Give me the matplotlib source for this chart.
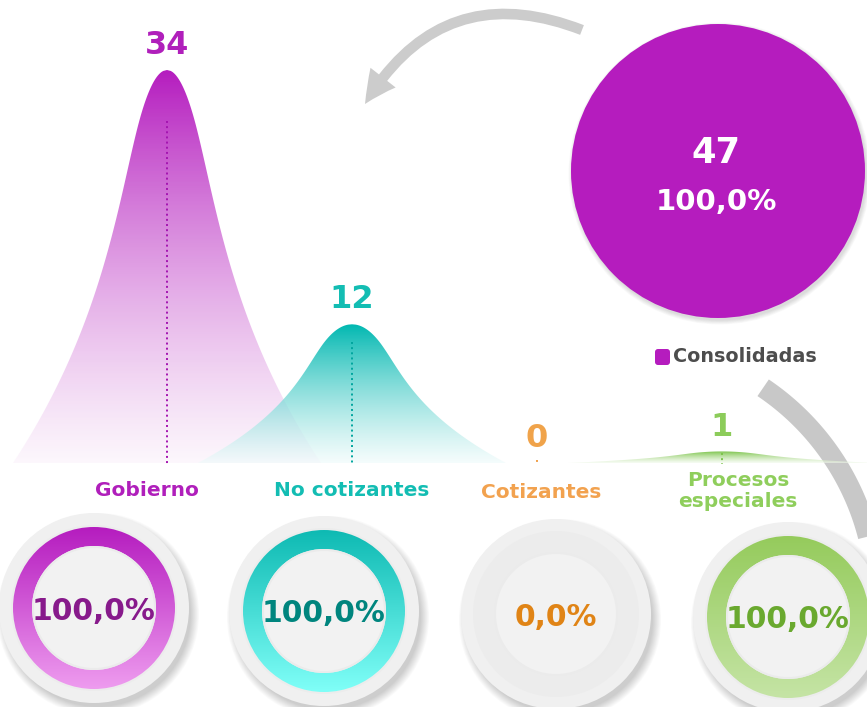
"""Consolidadas por tipo: bell peaks per category + completion donuts."""
import numpy as np
import matplotlib
matplotlib.use("Agg")
import matplotlib.pyplot as plt
from matplotlib.patches import Circle, Wedge, Polygon, FancyArrowPatch, FancyBboxPatch
from matplotlib.colors import to_rgb

# ---- data ----
categories = ["Gobierno", "No cotizantes", "Cotizantes", "Procesos\nespeciales"]
counts = [34, 12, 0, 1]
pct_done = [100.0, 100.0, 0.0, 100.0]
total_label = "Consolidadas"
total_pct = 100.0

# ---- styles ----
peak_dark = ["#b51cbf", "#00b8b1", "#f0a04a", "#7cc44a"]
peak_light = ["#fbf2fb", "#effbfb", "#fdf3e8", "#f3faee"]
line_col = ["#a414b0", "#00a59e", "#f0a04a", "#7cc44a"]
label_col = ["#b01fbb", "#13bdb3", "#f2a24f", "#8fce5c"]
value_col = ["#b01fbb", "#13bdb3", "#f0a34a", "#8ccc5a"]
ring_top = ["#b51cbf", "#0ebab3", "#f0a04a", "#95cb5c"]
ring_bot = ["#ee9cef", "#80fff8", "#f8c890", "#c5e4a5"]
pct_col = ["#871a8b", "#00857e", "#e08416", "#6aa92f"]
PURPLE = "#b51cbe"

W, H = 867, 707
fig = plt.figure(figsize=(W / 100, H / 100), dpi=100)

# pixel-space axes for the decorative layer
ax = fig.add_axes([0, 0, 1, 1])
ax.set_xlim(0, W)
ax.set_ylim(H, 0)
ax.axis("off")


def fmt_pct(p):
    return f"{p:.1f}".replace(".", ",") + "%"


def gradient_img(c1, c2, n=256):
    a, b = np.array(to_rgb(c1)), np.array(to_rgb(c2))
    t = np.linspace(0, 1, n)[:, None]
    return (a * (1 - t) + b * t)[:, None, :]


def half_width(u):
    # relative half-width of the curved column at relative height u
    return np.sqrt(1 - u) * (0.5 + 0.5 * np.clip(1 - u / 0.85, 0, None) ** 2)


# ---- top curved arrow ----
arr = FancyArrowPatch((582, 30), (365, 104), connectionstyle="arc3,rad=0.42",
                      arrowstyle="Simple,tail_width=7.5,head_width=23,head_length=23",
                      color="#cccccc", lw=0, shrinkA=0, shrinkB=0, mutation_scale=1)
ax.add_patch(arr)

# ---- right arc ----
ang = np.radians(np.linspace(-56, 8, 80))
ax.plot(620 + 256 * np.cos(ang), 600 + 256 * np.sin(ang), color="#c8c8c8",
        lw=14.5, solid_capstyle="butt", zorder=1)

# ---- big total circle ----
cx, cy, r = 718, 171, 147
for k in range(6):
    ax.add_patch(Circle((cx + 1.5, cy + 2.5), r + k * 0.8, color="#000000",
                        alpha=0.025, lw=0, zorder=2))
ax.add_patch(Circle((cx, cy), r, color=PURPLE, lw=0, zorder=3))
ax.text(cx - 2, 153, f"{sum(counts)}", color="white", fontsize=25.5,
        fontweight="bold", ha="center", va="center", zorder=4)
ax.text(cx - 2, 202, fmt_pct(total_pct), color="white", fontsize=21,
        fontweight="bold", ha="center", va="center", zorder=4)
ax.add_patch(FancyBboxPatch((655, 349), 15, 16, boxstyle="round,pad=0,rounding_size=3",
                            color=PURPLE, lw=0, zorder=3))
ax.text(673, 357, total_label, color="#4d4d4d", fontsize=13.8, fontweight="bold",
        ha="left", va="center", zorder=3)

# ---- category labels ----
label_xy = [(147, 490), (352, 491), (541, 492), (738, 491)]
for (lx, ly), name, col in zip(label_xy, categories, label_col):
    ax.text(lx, ly, name, color=col, fontsize=14.5, fontweight="bold",
            ha="center", va="center", linespacing=1.07, zorder=3)

# ---- donuts ----
donut_c = [(94, 608), (324, 611), (556, 614), (788, 617)]
for i, (dx, dy) in enumerate(donut_c):
    for k in range(10):
        ax.add_patch(Circle((dx + 4, dy + 6), 93 + k * 0.9, color="#000000",
                            alpha=0.018, lw=0, zorder=2))
    ax.add_patch(Circle((dx, dy), 95, color="#f0f0f0", lw=0, zorder=3))
    ax.add_patch(Wedge((dx, dy), 83, 0, 360, width=22, color="#ececec", lw=0, zorder=4))
    if pct_done[i] > 0:
        ring = Wedge((dx, dy), 81, 90 - 360 * pct_done[i] / 100, 90, width=19,
                     color="none", lw=0)
        ax.add_patch(ring)
        im = ax.imshow(gradient_img(ring_top[i], ring_bot[i]), aspect="auto",
                       extent=(dx - 81, dx + 81, dy + 81, dy - 81), origin="upper",
                       zorder=5, interpolation="bilinear")
        im.set_clip_path(ring)
    ax.add_patch(Circle((dx, dy), 62, color="#ebebeb", lw=0, zorder=6))
    ax.add_patch(Circle((dx, dy), 60, color="#f2f2f2", lw=0, zorder=6))
    ax.text(dx, dy + 3, fmt_pct(pct_done[i]), color=pct_col[i], fontsize=21.5,
            fontweight="bold", ha="center", va="center", zorder=7)

ax.set_xlim(0, W)
ax.set_ylim(H, 0)

# ---- peaks (data axes) ----
BASE, TOP, X0, STEP = 463, 70, 167, 185
unit = (BASE - TOP) / max(counts)
pk = fig.add_axes([0, (H - BASE) / H, 1, BASE / H])
pk.patch.set_alpha(0)
pk.axis("off")
xlim = (-X0 / STEP, (W - X0) / STEP)
ylim = (0, BASE / unit)
half = 154 / STEP

u = np.linspace(0, 1, 400)
for i, v in enumerate(counts):
    if v > 0:
        hw = half * half_width(u)
        xs = np.r_[i - hw, (i + hw)[::-1]]
        ys = np.r_[v * u, (v * u)[::-1]]
        poly = Polygon(np.column_stack([xs, ys]), closed=True,
                       facecolor="none", edgecolor="none")
        pk.add_patch(poly)
        g = gradient_img(peak_light[i], peak_dark[i])
        alpha = np.linspace(0.6, 1.0, g.shape[0])[:, None, None]
        rgba = np.concatenate([g, alpha], axis=2)
        im = pk.imshow(rgba, aspect="auto", extent=(i - half, i + half, 0, v),
                       origin="lower", zorder=2 + i, interpolation="bilinear")
        im.set_clip_path(poly)
    pk.plot([i, i], [max(v * 0.87, 0.3), -0.1], ls=":", lw=1.4, color=line_col[i],
            zorder=10, clip_on=False)
    pk.annotate(f"{v}", (i, v), xytext=(0, 17.5), textcoords="offset points",
                ha="center", va="center", fontsize=23, fontweight="bold",
                color=value_col[i], zorder=11)

pk.set_xlim(*xlim)
pk.set_ylim(*ylim)

fig.savefig("out.png", dpi=100)
